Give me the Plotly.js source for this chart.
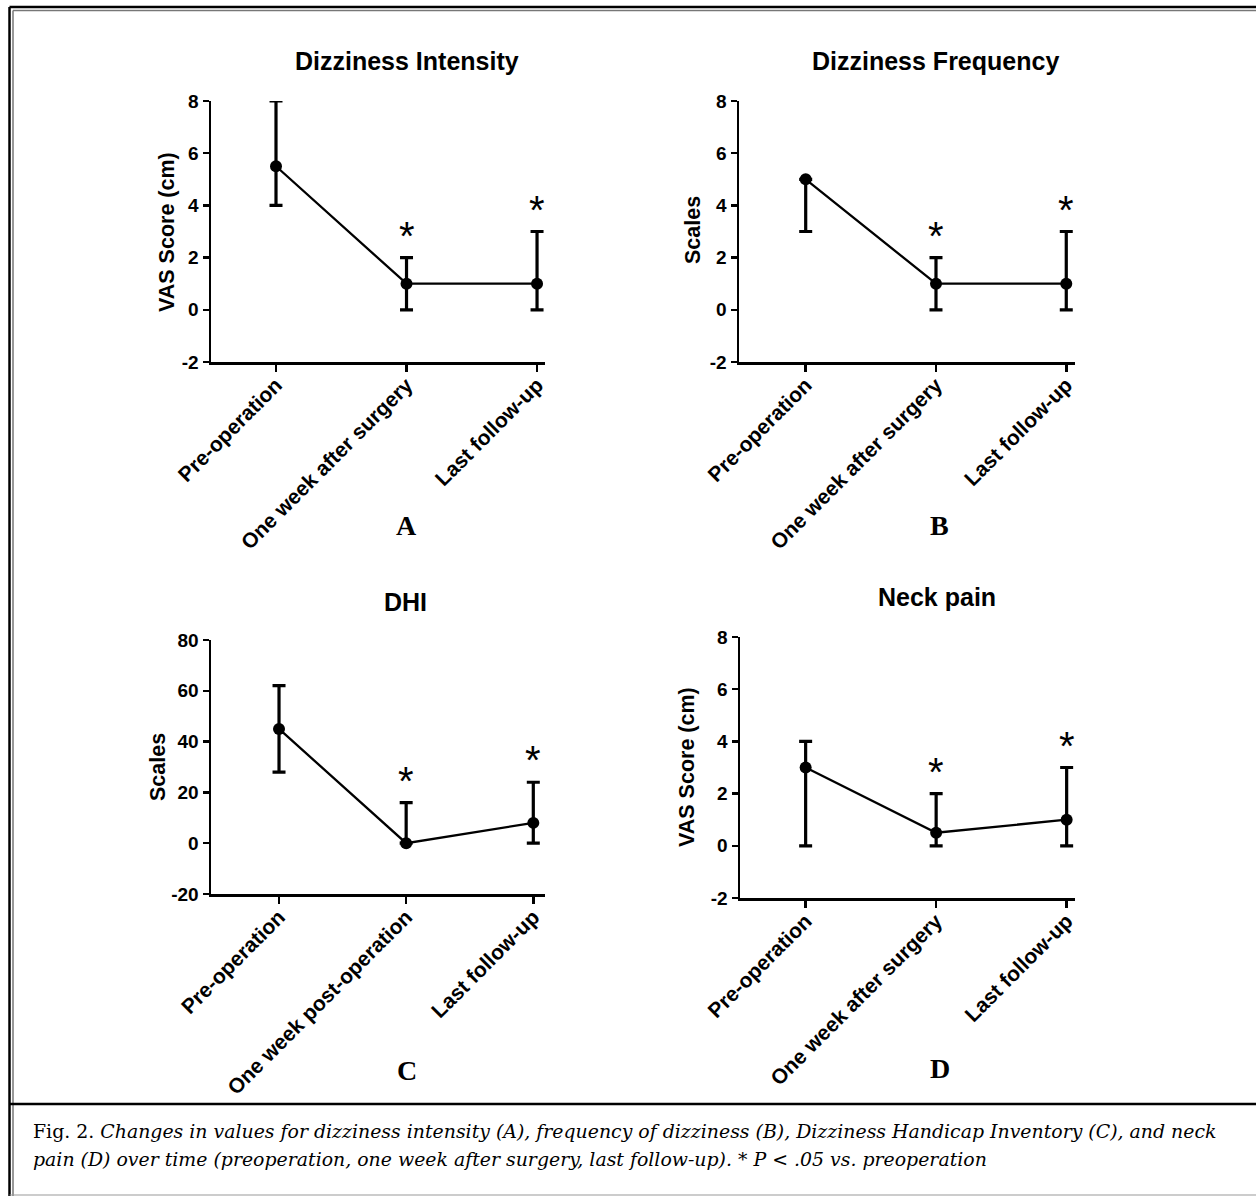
<!DOCTYPE html>
<html>
<head>
<meta charset="utf-8">
<script src="https://cdn.plot.ly/plotly-3.0.1.min.js"></script>
<style>html,body{margin:0;padding:0;background:#fff;}#chart{width:1256px;height:1196px;}</style>
</head>
<body>
<div id="chart"></div>
<script>
// ---------- data ----------
const categoriesAB = ["Pre-operation", "One week after surgery", "Last follow-up"];
const categoriesC = ["Pre-operation", "One week post-operation", "Last follow-up"];
const categoriesD = ["Pre-operation", "One week after surgery", "Last follow-up"];
const xPos = [0, 1, 2];

const intensityCenter = [5.5, 1, 1];
const intensityUpper = [8, 2, 3];
const intensityLower = [4, 0, 0];

const frequencyCenter = [5, 1, 1];
const frequencyUpper = [5, 2, 3];
const frequencyLower = [3, 0, 0];

const dhiCenter = [45, 0, 8];
const dhiUpper = [62, 16, 24];
const dhiLower = [28, 0, 0];

const neckCenter = [3, 0.5, 1];
const neckUpper = [4, 2, 3];
const neckLower = [0, 0, 0];

const significant = [false, true, true];

const yTicksVAS = [-2, 0, 2, 4, 6, 8];
const yTicksDHI = [-20, 0, 20, 40, 60, 80];

const panelTitles = ["Dizziness Intensity", "Dizziness Frequency", "DHI", "Neck pain"];
const yTitles = ["VAS Score (cm)", "Scales", "Scales", "VAS Score (cm)"];
const panelLetters = ["A", "B", "C", "D"];

const captionLine1 = "Fig. 2. <i>Changes in values for dizziness intensity (A), frequency of dizziness (B), Dizziness Handicap Inventory (C), and neck</i>";
const captionLine2 = "<i>pain (D) over time (preoperation, one week after surgery, last follow-up). * P &lt; .05 vs. preoperation</i>";

// ---------- layout helpers ----------
const W = 1256, H = 1196;
const px = x => x / W;
const py = y => 1 - y / H;

const panels = [
  {cats: categoriesAB, c: intensityCenter, u: intensityUpper, l: intensityLower, ticks: yTicksVAS,
   xd: [211, 545], yd: [101, 362], xr: [-0.498, 2.061], yr: [-2, 8],
   title: [407, 61], ytitle: [167, 232], letter: [406, 525]},
  {cats: categoriesAB, c: frequencyCenter, u: frequencyUpper, l: frequencyLower, ticks: yTicksVAS,
   xd: [739, 1075], yd: [101, 362], xr: [-0.512, 2.067], yr: [-2, 8],
   title: [936, 61], ytitle: [693, 230], letter: [939, 525]},
  {cats: categoriesC, c: dhiCenter, u: dhiUpper, l: dhiLower, ticks: yTicksDHI,
   xd: [211, 545], yd: [640, 894], xr: [-0.535, 2.092], yr: [-20, 80],
   title: [405, 602], ytitle: [158, 767], letter: [407, 1070]},
  {cats: categoriesD, c: neckCenter, u: neckUpper, l: neckLower, ticks: yTicksVAS,
   xd: [740, 1075], yd: [637, 898], xr: [-0.503, 2.064], yr: [-2, 8],
   title: [937, 597], ytitle: [687, 767], letter: [940, 1068]}
];

const sans = "Liberation Sans, Arial, sans-serif";
const tickFont = {family: sans, size: 19, color: "#000", weight: "bold"};
const catFont = {family: sans, size: 21, color: "#000", weight: "bold"};

const traces = [];
const layout = {
  width: W, height: H, autosize: false,
  margin: {l: 0, r: 0, t: 0, b: 0},
  paper_bgcolor: "#fff", plot_bgcolor: "rgba(0,0,0,0)",
  showlegend: false,
  annotations: [],
  shapes: []
};

panels.forEach((p, i) => {
  const n = i === 0 ? "" : String(i + 1);
  traces.push({
    type: "scatter", mode: "lines+markers",
    x: xPos, y: p.c,
    xaxis: "x" + n, yaxis: "y" + n,
    line: {color: "#000", width: 2.3},
    marker: {color: "#000", size: 12},
    error_y: {type: "data", symmetric: false,
      array: p.u.map((v, k) => v - p.c[k]),
      arrayminus: p.c.map((v, k) => v - p.l[k]),
      color: "#000", thickness: 3.2, width: 6.5},
    hoverinfo: "skip"
  });
  layout["xaxis" + n] = {
    domain: [px(p.xd[0]), px(p.xd[1])], range: p.xr, anchor: "y" + n,
    tickvals: xPos, ticktext: p.cats, tickangle: -45, ticklabelstandoff: -7,
    showline: true, linecolor: "#000", linewidth: 2.5,
    ticks: "outside", ticklen: 7, tickwidth: 2.5, tickcolor: "#000",
    showgrid: false, zeroline: false, tickfont: catFont, fixedrange: true
  };
  layout["yaxis" + n] = {
    domain: [py(p.yd[1]), py(p.yd[0])], range: p.yr, anchor: "x" + n,
    tickvals: p.ticks, ticktext: p.ticks.map(v => String(v)),
    showline: true, linecolor: "#000", linewidth: 2.5,
    ticks: "outside", ticklen: 6, tickwidth: 2.5, tickcolor: "#000",
    showgrid: false, zeroline: false, tickfont: tickFont, fixedrange: true
  };
  // panel title
  layout.annotations.push({xref: "paper", yref: "paper", x: px(p.title[0]), y: py(p.title[1]),
    text: panelTitles[i], showarrow: false, xanchor: "center", yanchor: "middle",
    font: {family: sans, size: 25, color: "#000", weight: "bold"}});
  // y title
  layout.annotations.push({xref: "paper", yref: "paper", x: px(p.ytitle[0]), y: py(p.ytitle[1]),
    text: yTitles[i], showarrow: false, xanchor: "center", yanchor: "middle", textangle: -90,
    font: {family: sans, size: 21.5, color: "#000", weight: "bold"}});
  // letter
  layout.annotations.push({xref: "paper", yref: "paper", x: px(p.letter[0]), y: py(p.letter[1]),
    text: panelLetters[i], showarrow: false, xanchor: "center", yanchor: "middle",
    font: {family: "Liberation Serif, Times New Roman, serif", size: 28, color: "#000", weight: "bold"}});
  // significance asterisks
  xPos.forEach((xv, k) => {
    if (!significant[k]) return;
    layout.annotations.push({xref: "x" + n, yref: "y" + n, x: xv, y: p.u[k],
      text: "*", showarrow: false, xanchor: "center", yanchor: "middle", yshift: 22,
      font: {family: sans, size: 40, color: "#000"}});
  });
});

// caption
const capFont = {family: "DejaVu Serif, serif", size: 18.9, color: "#000"};
layout.annotations.push({xref: "paper", yref: "paper", x: px(31), y: py(1131), text: captionLine1,
  showarrow: false, xanchor: "left", yanchor: "middle", font: capFont});
layout.annotations.push({xref: "paper", yref: "paper", x: px(31), y: py(1159), text: captionLine2,
  showarrow: false, xanchor: "left", yanchor: "middle", font: capFont});

// frame lines
const line = (x0, y0, x1, y1, color, width) => ({type: "line", xref: "paper", yref: "paper",
  x0: px(x0), y0: py(y0), x1: px(x1), y1: py(y1), line: {color: color, width: width}});
layout.shapes.push(line(9.5, 7, 1260, 7, "#000", 2.5));
layout.shapes.push(line(9.5, 7, 9.5, 1200, "#000", 2.5));
layout.shapes.push(line(13, 10.5, 1260, 10.5, "#777", 1.5));
layout.shapes.push(line(13, 10.5, 13, 1200, "#777", 1.5));
layout.shapes.push(line(9.5, 1104, 1260, 1104, "#000", 2.5));
layout.shapes.push(line(9.5, 1195, 1260, 1195, "#999", 1.2));

Plotly.newPlot("chart", traces, layout, {staticPlot: true, displayModeBar: false});
</script>
</body>
</html>
